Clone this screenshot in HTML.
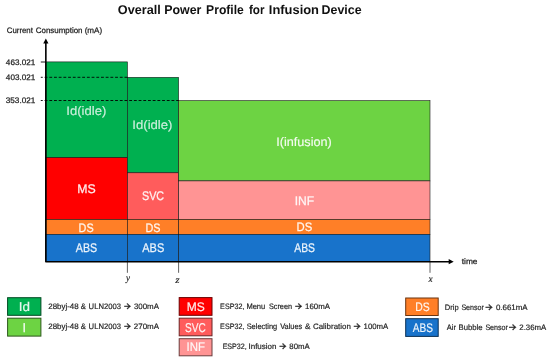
<!DOCTYPE html>
<html lang="en">
<head>
<meta charset="utf-8">
<title>Overall Power Profile for Infusion Device</title>
<style>
html,body{margin:0;padding:0;background:#ffffff;}
body{width:550px;height:361px;overflow:hidden;font-family:"Liberation Sans",sans-serif;}
svg{display:block;will-change:transform;}
text{white-space:pre;}
</style>
</head>
<body>
<svg width="550" height="361" viewBox="0 0 550 361" text-rendering="geometricPrecision">
<rect x="0" y="0" width="550" height="361" fill="#ffffff"/>
<rect x="45.85" y="61.90" width="81.55" height="95.80" fill="#00B050" stroke="#1a1a1a" stroke-width="0.6"/>
<rect x="45.85" y="157.70" width="81.55" height="61.80" fill="#FF0000" stroke="#1a1a1a" stroke-width="0.6"/>
<rect x="45.85" y="219.50" width="81.55" height="14.80" fill="#FF7F27" stroke="#1a1a1a" stroke-width="0.6"/>
<rect x="45.85" y="234.30" width="81.55" height="27.40" fill="#1873CB" stroke="#1a1a1a" stroke-width="0.6"/>
<rect x="127.40" y="77.30" width="51.20" height="95.50" fill="#00B050" stroke="#1a1a1a" stroke-width="0.6"/>
<rect x="127.40" y="172.80" width="51.20" height="46.70" fill="#FF5C5C" stroke="#1a1a1a" stroke-width="0.6"/>
<rect x="127.40" y="219.50" width="51.20" height="14.80" fill="#FF7F27" stroke="#1a1a1a" stroke-width="0.6"/>
<rect x="127.40" y="234.30" width="51.20" height="27.40" fill="#1873CB" stroke="#1a1a1a" stroke-width="0.6"/>
<rect x="178.60" y="100.60" width="251.40" height="80.30" fill="#6DD343" stroke="#1a1a1a" stroke-width="0.6"/>
<rect x="178.60" y="180.90" width="251.40" height="38.60" fill="#FF9494" stroke="#1a1a1a" stroke-width="0.6"/>
<rect x="178.60" y="219.50" width="251.40" height="14.80" fill="#FF7F27" stroke="#1a1a1a" stroke-width="0.6"/>
<rect x="178.60" y="234.30" width="251.40" height="27.40" fill="#1873CB" stroke="#1a1a1a" stroke-width="0.6"/>
<line x1="127.40" y1="261.70" x2="127.40" y2="272.80" stroke="#3a3a3a" stroke-width="0.8" />
<line x1="178.60" y1="261.70" x2="178.60" y2="272.80" stroke="#3a3a3a" stroke-width="0.8" />
<line x1="430.00" y1="261.70" x2="430.00" y2="272.80" stroke="#3a3a3a" stroke-width="0.8" />
<line x1="40.80" y1="62.00" x2="45.85" y2="62.00" stroke="#000" stroke-width="0.9" />
<line x1="40.80" y1="77.30" x2="127.40" y2="77.30" stroke="#000" stroke-width="0.9" stroke-dasharray="2.85 1.85" stroke-dashoffset="0.9"/>
<line x1="40.80" y1="100.50" x2="178.60" y2="100.50" stroke="#000" stroke-width="0.9" stroke-dasharray="2.85 1.85" stroke-dashoffset="0.9"/>
<polyline points="45.85,43 45.85,261.7 449,261.7" fill="none" stroke="#000" stroke-width="1.6" stroke-linejoin="round"/>
<polygon points="45.85,38.5 43.25,43.4 48.45,43.4" fill="#000"/>
<polygon points="453.7,261.7 448.7,259.09999999999997 448.7,264.3" fill="#000"/>
<text x="117.78" y="13.90" font-family='"Liberation Sans", sans-serif' font-size="12.65" font-weight="bold" font-style="normal" fill="#111" textLength="43.02" lengthAdjust="spacingAndGlyphs">Overall</text>
<text x="164.17" y="13.90" font-family='"Liberation Sans", sans-serif' font-size="12.65" font-weight="bold" font-style="normal" fill="#111" textLength="37.22" lengthAdjust="spacingAndGlyphs">Power</text>
<text x="206.09" y="13.90" font-family='"Liberation Sans", sans-serif' font-size="12.65" font-weight="bold" font-style="normal" fill="#111" textLength="37.73" lengthAdjust="spacingAndGlyphs">Profile</text>
<text x="248.90" y="13.90" font-family='"Liberation Sans", sans-serif' font-size="12.65" font-weight="bold" font-style="normal" fill="#111" textLength="15.58" lengthAdjust="spacingAndGlyphs">for</text>
<text x="268.84" y="13.90" font-family='"Liberation Sans", sans-serif' font-size="12.65" font-weight="bold" font-style="normal" fill="#111" textLength="50.16" lengthAdjust="spacingAndGlyphs">Infusion</text>
<text x="321.57" y="13.90" font-family='"Liberation Sans", sans-serif' font-size="12.65" font-weight="bold" font-style="normal" fill="#111" textLength="40.06" lengthAdjust="spacingAndGlyphs">Device</text>
<text x="6.78" y="32.70" font-family='"Liberation Sans", sans-serif' font-size="7.99" font-weight="normal" font-style="normal" fill="#1f1f1f" stroke="#1f1f1f" stroke-width="0.25" stroke-linejoin="round" textLength="26.10" lengthAdjust="spacingAndGlyphs">Current</text>
<text x="35.77" y="32.70" font-family='"Liberation Sans", sans-serif' font-size="7.99" font-weight="normal" font-style="normal" fill="#1f1f1f" stroke="#1f1f1f" stroke-width="0.25" stroke-linejoin="round" textLength="46.77" lengthAdjust="spacingAndGlyphs">Consumption</text>
<text x="84.68" y="32.70" font-family='"Liberation Sans", sans-serif' font-size="7.99" font-weight="normal" font-style="normal" fill="#1f1f1f" stroke="#1f1f1f" stroke-width="0.25" stroke-linejoin="round" textLength="17.45" lengthAdjust="spacingAndGlyphs">(mA)</text>
<text x="5.89" y="64.80" font-family='"Liberation Sans", sans-serif' font-size="7.99" font-weight="normal" font-style="normal" fill="#1f1f1f" stroke="#1f1f1f" stroke-width="0.25" stroke-linejoin="round" textLength="29.43" lengthAdjust="spacingAndGlyphs">463.021</text>
<text x="5.89" y="80.00" font-family='"Liberation Sans", sans-serif' font-size="7.99" font-weight="normal" font-style="normal" fill="#1f1f1f" stroke="#1f1f1f" stroke-width="0.25" stroke-linejoin="round" textLength="29.43" lengthAdjust="spacingAndGlyphs">403.021</text>
<text x="5.76" y="103.10" font-family='"Liberation Sans", sans-serif' font-size="7.99" font-weight="normal" font-style="normal" fill="#1f1f1f" stroke="#1f1f1f" stroke-width="0.25" stroke-linejoin="round" textLength="29.56" lengthAdjust="spacingAndGlyphs">353.021</text>
<text x="461.75" y="263.60" font-family='"Liberation Sans", sans-serif' font-size="7.85" font-weight="normal" font-style="normal" fill="#1f1f1f" stroke="#1f1f1f" stroke-width="0.25" stroke-linejoin="round" textLength="15.75" lengthAdjust="spacingAndGlyphs">time</text>
<text x="125.88" y="281.20" font-family='"Liberation Serif", serif' font-size="9.62" font-weight="normal" font-style="italic" fill="#1f1f1f" stroke="#1f1f1f" stroke-width="0.15" stroke-linejoin="round" textLength="3.99" lengthAdjust="spacingAndGlyphs">y</text>
<text x="175.25" y="282.70" font-family='"Liberation Serif", serif' font-size="9.62" font-weight="normal" font-style="italic" fill="#1f1f1f" stroke="#1f1f1f" stroke-width="0.15" stroke-linejoin="round" textLength="4.37" lengthAdjust="spacingAndGlyphs">z</text>
<text x="428.44" y="281.50" font-family='"Liberation Serif", serif' font-size="9.62" font-weight="normal" font-style="italic" fill="#1f1f1f" stroke="#1f1f1f" stroke-width="0.15" stroke-linejoin="round" textLength="4.10" lengthAdjust="spacingAndGlyphs">x</text>
<text x="66.32" y="114.60" font-family='"Liberation Sans", sans-serif' font-size="12.35" font-weight="normal" font-style="normal" fill="#ffffff" stroke="#ffffff" stroke-width="0.15" stroke-linejoin="round" opacity="0.8" textLength="39.97" lengthAdjust="spacingAndGlyphs">Id(idle)</text>
<text x="132.31" y="129.40" font-family='"Liberation Sans", sans-serif' font-size="12.35" font-weight="normal" font-style="normal" fill="#ffffff" stroke="#ffffff" stroke-width="0.15" stroke-linejoin="round" opacity="0.8" textLength="40.18" lengthAdjust="spacingAndGlyphs">Id(idle)</text>
<text x="276.15" y="145.50" font-family='"Liberation Sans", sans-serif' font-size="12.35" font-weight="normal" font-style="normal" fill="#ffffff" stroke="#ffffff" stroke-width="0.15" stroke-linejoin="round" opacity="0.92" textLength="55.71" lengthAdjust="spacingAndGlyphs">I(infusion)</text>
<text x="77.27" y="193.20" font-family='"Liberation Sans", sans-serif' font-size="12.50" font-weight="normal" font-style="normal" fill="#ffffff" stroke="#ffffff" stroke-width="0.25" stroke-linejoin="round" opacity="0.92" textLength="18.42" lengthAdjust="spacingAndGlyphs">MS</text>
<text x="141.99" y="200.40" font-family='"Liberation Sans", sans-serif' font-size="12.50" font-weight="normal" font-style="normal" fill="#ffffff" stroke="#ffffff" stroke-width="0.25" stroke-linejoin="round" opacity="0.92" textLength="22.15" lengthAdjust="spacingAndGlyphs">SVC</text>
<text x="294.76" y="205.00" font-family='"Liberation Sans", sans-serif' font-size="12.50" font-weight="normal" font-style="normal" fill="#ffffff" stroke="#ffffff" stroke-width="0.25" stroke-linejoin="round" opacity="0.92" textLength="19.45" lengthAdjust="spacingAndGlyphs">INF</text>
<text x="78.59" y="231.80" font-family='"Liberation Sans", sans-serif' font-size="12.21" font-weight="normal" font-style="normal" fill="#ffffff" stroke="#ffffff" stroke-width="0.25" stroke-linejoin="round" opacity="0.92" textLength="15.03" lengthAdjust="spacingAndGlyphs">DS</text>
<text x="145.39" y="231.80" font-family='"Liberation Sans", sans-serif' font-size="12.21" font-weight="normal" font-style="normal" fill="#ffffff" stroke="#ffffff" stroke-width="0.25" stroke-linejoin="round" opacity="0.92" textLength="15.03" lengthAdjust="spacingAndGlyphs">DS</text>
<text x="296.55" y="231.40" font-family='"Liberation Sans", sans-serif' font-size="12.21" font-weight="normal" font-style="normal" fill="#ffffff" stroke="#ffffff" stroke-width="0.25" stroke-linejoin="round" opacity="0.92" textLength="15.70" lengthAdjust="spacingAndGlyphs">DS</text>
<text x="75.85" y="251.80" font-family='"Liberation Sans", sans-serif' font-size="12.50" font-weight="normal" font-style="normal" fill="#ffffff" stroke="#ffffff" stroke-width="0.25" stroke-linejoin="round" opacity="0.92" textLength="21.36" lengthAdjust="spacingAndGlyphs">ABS</text>
<text x="142.25" y="251.80" font-family='"Liberation Sans", sans-serif' font-size="12.50" font-weight="normal" font-style="normal" fill="#ffffff" stroke="#ffffff" stroke-width="0.25" stroke-linejoin="round" opacity="0.92" textLength="21.98" lengthAdjust="spacingAndGlyphs">ABS</text>
<text x="294.25" y="252.00" font-family='"Liberation Sans", sans-serif' font-size="12.50" font-weight="normal" font-style="normal" fill="#ffffff" stroke="#ffffff" stroke-width="0.25" stroke-linejoin="round" opacity="0.92" textLength="20.75" lengthAdjust="spacingAndGlyphs">ABS</text>
<rect x="7.60" y="297.70" width="33.30" height="17.60" fill="#00B050" stroke="#004921" stroke-width="1.0"/>
<rect x="7.60" y="318.20" width="33.30" height="17.90" fill="#6DD343" stroke="#2d581c" stroke-width="1.0"/>
<rect x="179.20" y="297.60" width="32.80" height="17.70" fill="#FF0000" stroke="#6b0000" stroke-width="1.0"/>
<rect x="179.20" y="318.20" width="32.80" height="17.60" fill="#FF5C5C" stroke="#6b2626" stroke-width="1.0"/>
<rect x="179.20" y="338.70" width="32.80" height="17.10" fill="#FF9494" stroke="#6b3e3e" stroke-width="1.0"/>
<rect x="405.70" y="298.00" width="32.50" height="17.50" fill="#FF7F27" stroke="#6b3510" stroke-width="1.0"/>
<rect x="405.70" y="318.70" width="32.50" height="17.70" fill="#1873CB" stroke="#0a3055" stroke-width="1.0"/>
<text x="18.71" y="311.00" font-family='"Liberation Sans", sans-serif' font-size="12.79" font-weight="normal" font-style="normal" fill="#ffffff" stroke="#ffffff" stroke-width="0.2" stroke-linejoin="round" opacity="0.9" textLength="11.21" lengthAdjust="spacingAndGlyphs">Id</text>
<text x="24.40" y="332.00" font-family='"Liberation Sans", sans-serif' font-size="12.79" font-weight="normal" font-style="normal" fill="#ffffff" stroke="#ffffff" stroke-width="0.25" stroke-linejoin="round" opacity="0.9" text-anchor="middle">I</text>
<text x="186.76" y="311.00" font-family='"Liberation Sans", sans-serif' font-size="12.50" font-weight="normal" font-style="normal" fill="#ffffff" stroke="#ffffff" stroke-width="0.2" stroke-linejoin="round" opacity="0.92" textLength="18.04" lengthAdjust="spacingAndGlyphs">MS</text>
<text x="185.09" y="331.60" font-family='"Liberation Sans", sans-serif' font-size="12.79" font-weight="normal" font-style="normal" fill="#ffffff" stroke="#ffffff" stroke-width="0.2" stroke-linejoin="round" opacity="0.92" textLength="20.74" lengthAdjust="spacingAndGlyphs">SVC</text>
<text x="186.50" y="351.20" font-family='"Liberation Sans", sans-serif' font-size="12.50" font-weight="normal" font-style="normal" fill="#ffffff" stroke="#ffffff" stroke-width="0.2" stroke-linejoin="round" opacity="0.92" textLength="18.41" lengthAdjust="spacingAndGlyphs">INF</text>
<text x="415.30" y="311.30" font-family='"Liberation Sans", sans-serif' font-size="12.21" font-weight="normal" font-style="normal" fill="#ffffff" stroke="#ffffff" stroke-width="0.2" stroke-linejoin="round" opacity="0.92" textLength="14.43" lengthAdjust="spacingAndGlyphs">DS</text>
<text x="412.73" y="332.00" font-family='"Liberation Sans", sans-serif' font-size="12.50" font-weight="normal" font-style="normal" fill="#ffffff" stroke="#ffffff" stroke-width="0.2" stroke-linejoin="round" opacity="0.92" textLength="20.18" lengthAdjust="spacingAndGlyphs">ABS</text>
<text x="48.31" y="308.90" font-family='"Liberation Sans", sans-serif' font-size="7.85" font-weight="normal" font-style="normal" fill="#1f1f1f" stroke="#1f1f1f" stroke-width="0.18" stroke-linejoin="round" textLength="30.32" lengthAdjust="spacingAndGlyphs">28byj-48</text>
<text x="80.74" y="308.90" font-family='"Liberation Sans", sans-serif' font-size="7.85" font-weight="normal" font-style="normal" fill="#1f1f1f" stroke="#1f1f1f" stroke-width="0.18" stroke-linejoin="round" textLength="5.17" lengthAdjust="spacingAndGlyphs">&amp;</text>
<text x="88.62" y="308.90" font-family='"Liberation Sans", sans-serif' font-size="7.85" font-weight="normal" font-style="normal" fill="#1f1f1f" stroke="#1f1f1f" stroke-width="0.18" stroke-linejoin="round" textLength="32.31" lengthAdjust="spacingAndGlyphs">ULN2003</text>
<clipPath id="ac1"><rect x="124.20" y="301.15" width="8.10" height="10"/></clipPath>
<text x="118.83" y="310.86" clip-path="url(#ac1)" font-family='"Noto Sans CJK SC", "DejaVu Sans", sans-serif' font-size="12.4" fill="#1f1f1f" stroke="#1f1f1f" stroke-width="0.25">→</text>
<text x="133.91" y="308.90" font-family='"Liberation Sans", sans-serif' font-size="7.85" font-weight="normal" font-style="normal" fill="#1f1f1f" stroke="#1f1f1f" stroke-width="0.18" stroke-linejoin="round" textLength="25.10" lengthAdjust="spacingAndGlyphs">300mA</text>
<text x="48.31" y="328.80" font-family='"Liberation Sans", sans-serif' font-size="7.85" font-weight="normal" font-style="normal" fill="#1f1f1f" stroke="#1f1f1f" stroke-width="0.18" stroke-linejoin="round" textLength="30.32" lengthAdjust="spacingAndGlyphs">28byj-48</text>
<text x="80.74" y="328.80" font-family='"Liberation Sans", sans-serif' font-size="7.85" font-weight="normal" font-style="normal" fill="#1f1f1f" stroke="#1f1f1f" stroke-width="0.18" stroke-linejoin="round" textLength="5.17" lengthAdjust="spacingAndGlyphs">&amp;</text>
<text x="88.62" y="328.80" font-family='"Liberation Sans", sans-serif' font-size="7.85" font-weight="normal" font-style="normal" fill="#1f1f1f" stroke="#1f1f1f" stroke-width="0.18" stroke-linejoin="round" textLength="32.31" lengthAdjust="spacingAndGlyphs">ULN2003</text>
<clipPath id="ac2"><rect x="124.20" y="321.05" width="8.10" height="10"/></clipPath>
<text x="118.83" y="330.76" clip-path="url(#ac2)" font-family='"Noto Sans CJK SC", "DejaVu Sans", sans-serif' font-size="12.4" fill="#1f1f1f" stroke="#1f1f1f" stroke-width="0.25">→</text>
<text x="133.81" y="328.80" font-family='"Liberation Sans", sans-serif' font-size="7.85" font-weight="normal" font-style="normal" fill="#1f1f1f" stroke="#1f1f1f" stroke-width="0.18" stroke-linejoin="round" textLength="25.20" lengthAdjust="spacingAndGlyphs">270mA</text>
<text x="220.12" y="308.90" font-family='"Liberation Sans", sans-serif' font-size="7.85" font-weight="normal" font-style="normal" fill="#1f1f1f" stroke="#1f1f1f" stroke-width="0.18" stroke-linejoin="round" textLength="24.31" lengthAdjust="spacingAndGlyphs">ESP32,</text>
<text x="246.39" y="308.90" font-family='"Liberation Sans", sans-serif' font-size="7.85" font-weight="normal" font-style="normal" fill="#1f1f1f" stroke="#1f1f1f" stroke-width="0.18" stroke-linejoin="round" textLength="18.90" lengthAdjust="spacingAndGlyphs">Menu</text>
<text x="268.88" y="308.90" font-family='"Liberation Sans", sans-serif' font-size="7.85" font-weight="normal" font-style="normal" fill="#1f1f1f" stroke="#1f1f1f" stroke-width="0.18" stroke-linejoin="round" textLength="23.19" lengthAdjust="spacingAndGlyphs">Screen</text>
<clipPath id="ac3"><rect x="295.20" y="301.15" width="8.30" height="10"/></clipPath>
<text x="290.03" y="310.86" clip-path="url(#ac3)" font-family='"Noto Sans CJK SC", "DejaVu Sans", sans-serif' font-size="12.4" fill="#1f1f1f" stroke="#1f1f1f" stroke-width="0.25">→</text>
<text x="305.11" y="308.90" font-family='"Liberation Sans", sans-serif' font-size="7.85" font-weight="normal" font-style="normal" fill="#1f1f1f" stroke="#1f1f1f" stroke-width="0.18" stroke-linejoin="round" textLength="24.89" lengthAdjust="spacingAndGlyphs">160mA</text>
<text x="220.12" y="328.80" font-family='"Liberation Sans", sans-serif' font-size="7.85" font-weight="normal" font-style="normal" fill="#1f1f1f" stroke="#1f1f1f" stroke-width="0.18" stroke-linejoin="round" textLength="24.31" lengthAdjust="spacingAndGlyphs">ESP32,</text>
<text x="246.67" y="328.80" font-family='"Liberation Sans", sans-serif' font-size="7.85" font-weight="normal" font-style="normal" fill="#1f1f1f" stroke="#1f1f1f" stroke-width="0.18" stroke-linejoin="round" textLength="30.60" lengthAdjust="spacingAndGlyphs">Selecting</text>
<text x="280.18" y="328.80" font-family='"Liberation Sans", sans-serif' font-size="7.85" font-weight="normal" font-style="normal" fill="#1f1f1f" stroke="#1f1f1f" stroke-width="0.18" stroke-linejoin="round" textLength="22.07" lengthAdjust="spacingAndGlyphs">Values</text>
<text x="304.92" y="328.80" font-family='"Liberation Sans", sans-serif' font-size="7.85" font-weight="normal" font-style="normal" fill="#1f1f1f" stroke="#1f1f1f" stroke-width="0.18" stroke-linejoin="round" textLength="5.50" lengthAdjust="spacingAndGlyphs">&amp;</text>
<text x="313.01" y="328.80" font-family='"Liberation Sans", sans-serif' font-size="7.85" font-weight="normal" font-style="normal" fill="#1f1f1f" stroke="#1f1f1f" stroke-width="0.18" stroke-linejoin="round" textLength="37.79" lengthAdjust="spacingAndGlyphs">Calibration</text>
<clipPath id="ac4"><rect x="353.80" y="321.05" width="8.20" height="10"/></clipPath>
<text x="348.53" y="330.76" clip-path="url(#ac4)" font-family='"Noto Sans CJK SC", "DejaVu Sans", sans-serif' font-size="12.4" fill="#1f1f1f" stroke="#1f1f1f" stroke-width="0.25">→</text>
<text x="363.62" y="328.80" font-family='"Liberation Sans", sans-serif' font-size="7.85" font-weight="normal" font-style="normal" fill="#1f1f1f" stroke="#1f1f1f" stroke-width="0.18" stroke-linejoin="round" textLength="24.69" lengthAdjust="spacingAndGlyphs">100mA</text>
<text x="222.63" y="349.30" font-family='"Liberation Sans", sans-serif' font-size="7.85" font-weight="normal" font-style="normal" fill="#1f1f1f" stroke="#1f1f1f" stroke-width="0.18" stroke-linejoin="round" textLength="24.10" lengthAdjust="spacingAndGlyphs">ESP32,</text>
<text x="248.47" y="349.30" font-family='"Liberation Sans", sans-serif' font-size="7.85" font-weight="normal" font-style="normal" fill="#1f1f1f" stroke="#1f1f1f" stroke-width="0.18" stroke-linejoin="round" textLength="28.04" lengthAdjust="spacingAndGlyphs">Infusion</text>
<clipPath id="ac5"><rect x="279.50" y="341.55" width="8.30" height="10"/></clipPath>
<text x="274.33" y="351.26" clip-path="url(#ac5)" font-family='"Noto Sans CJK SC", "DejaVu Sans", sans-serif' font-size="12.4" fill="#1f1f1f" stroke="#1f1f1f" stroke-width="0.25">→</text>
<text x="289.37" y="349.30" font-family='"Liberation Sans", sans-serif' font-size="7.85" font-weight="normal" font-style="normal" fill="#1f1f1f" stroke="#1f1f1f" stroke-width="0.18" stroke-linejoin="round" textLength="20.44" lengthAdjust="spacingAndGlyphs">80mA</text>
<text x="444.79" y="309.70" font-family='"Liberation Sans", sans-serif' font-size="7.85" font-weight="normal" font-style="normal" fill="#1f1f1f" stroke="#1f1f1f" stroke-width="0.18" stroke-linejoin="round" textLength="13.81" lengthAdjust="spacingAndGlyphs">Drip</text>
<text x="461.39" y="309.70" font-family='"Liberation Sans", sans-serif' font-size="7.85" font-weight="normal" font-style="normal" fill="#1f1f1f" stroke="#1f1f1f" stroke-width="0.18" stroke-linejoin="round" textLength="22.52" lengthAdjust="spacingAndGlyphs">Sensor</text>
<clipPath id="ac6"><rect x="485.50" y="301.95" width="8.50" height="10"/></clipPath>
<text x="480.53" y="311.66" clip-path="url(#ac6)" font-family='"Noto Sans CJK SC", "DejaVu Sans", sans-serif' font-size="12.4" fill="#1f1f1f" stroke="#1f1f1f" stroke-width="0.25">→</text>
<text x="495.90" y="309.70" font-family='"Liberation Sans", sans-serif' font-size="7.85" font-weight="normal" font-style="normal" fill="#1f1f1f" stroke="#1f1f1f" stroke-width="0.18" stroke-linejoin="round" textLength="31.70" lengthAdjust="spacingAndGlyphs">0.661mA</text>
<text x="446.70" y="329.70" font-family='"Liberation Sans", sans-serif' font-size="7.85" font-weight="normal" font-style="normal" fill="#1f1f1f" stroke="#1f1f1f" stroke-width="0.18" stroke-linejoin="round" textLength="9.22" lengthAdjust="spacingAndGlyphs">Air</text>
<text x="458.58" y="329.70" font-family='"Liberation Sans", sans-serif' font-size="7.85" font-weight="normal" font-style="normal" fill="#1f1f1f" stroke="#1f1f1f" stroke-width="0.18" stroke-linejoin="round" textLength="24.06" lengthAdjust="spacingAndGlyphs">Bubble</text>
<text x="485.39" y="329.70" font-family='"Liberation Sans", sans-serif' font-size="7.85" font-weight="normal" font-style="normal" fill="#1f1f1f" stroke="#1f1f1f" stroke-width="0.18" stroke-linejoin="round" textLength="22.52" lengthAdjust="spacingAndGlyphs">Sensor</text>
<clipPath id="ac7"><rect x="509.00" y="321.95" width="8.70" height="10"/></clipPath>
<text x="504.23" y="331.66" clip-path="url(#ac7)" font-family='"Noto Sans CJK SC", "DejaVu Sans", sans-serif' font-size="12.4" fill="#1f1f1f" stroke="#1f1f1f" stroke-width="0.25">→</text>
<text x="519.32" y="329.70" font-family='"Liberation Sans", sans-serif' font-size="7.85" font-weight="normal" font-style="normal" fill="#1f1f1f" stroke="#1f1f1f" stroke-width="0.18" stroke-linejoin="round" textLength="26.99" lengthAdjust="spacingAndGlyphs">2.36mA</text>
</svg>
</body>
</html>
